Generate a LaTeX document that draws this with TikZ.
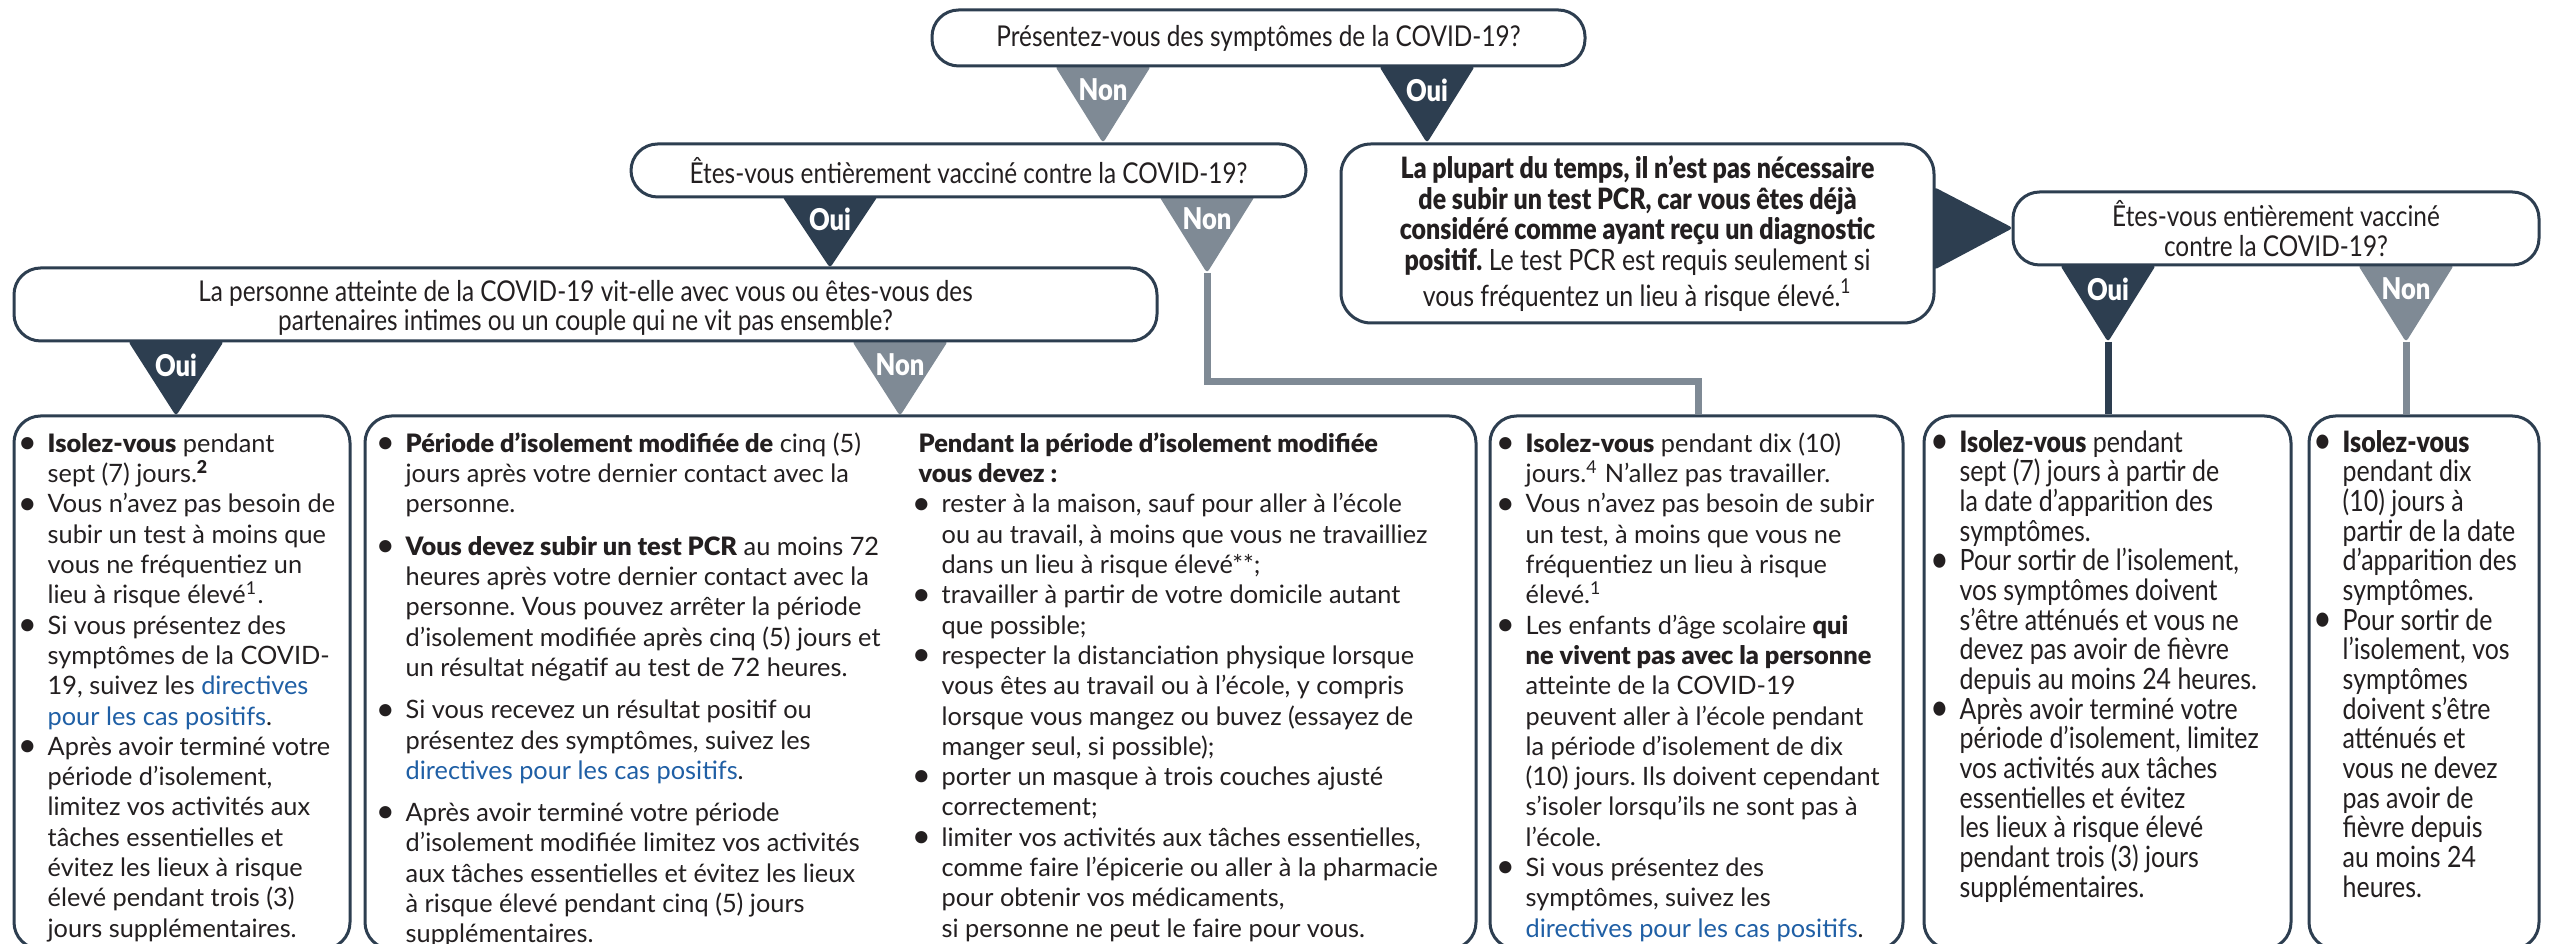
\documentclass[tikz,border=0pt]{standalone}
\usepackage{fontspec}
\usepackage{graphicx}
\setmainfont{Lato}[BoldFont={Lato Black}]
\newfontfamily\condfont{Lato}[FakeStretch=0.85, BoldFont={Lato Black}]
\usetikzlibrary{fit}
\definecolor{navy}{HTML}{2D3E50}
\definecolor{slate}{HTML}{7F8A95}
\definecolor{ink}{HTML}{231F20}
\definecolor{linkblue}{HTML}{1F5FA5}
\frenchspacing
\newcommand{\lnk}[1]{\textcolor{linkblue}{#1}}
\newcommand{\bl}{\llap{\raisebox{-0.1ex}{\scalebox{1.3}{\textbullet}}\hspace{3.2pt}}}
\newcommand{\fstrut}{\rule{0pt}{8pt}}
\tikzset{
  box/.style={draw=navy, fill=white, line width=0.9pt, rounded corners=8pt, inner sep=0pt},
  qbox/.style={box, rounded corners=8pt},
  body/.style={anchor=north west, align=left, inner sep=0pt, text=ink, font=\fontsize{7.6}{9.09}\selectfont},
  cbody/.style={anchor=north west, align=left, inner sep=0pt, text=ink, font=\condfont\fontsize{8.8}{8.9}\selectfont},
  qtext/.style={align=center, inner sep=0pt, text=ink, font=\condfont\fontsize{8.6}{8.8}\selectfont},
  btext/.style={align=center, inner sep=0pt, text=ink, font=\condfont\fontsize{8.8}{9.2}\selectfont},
  tlab/.style={text=white, inner sep=0pt, font=\condfont\bfseries\fontsize{9}{10}\selectfont},
  tri/.style={rounded corners=1pt},
  gline/.style={draw=slate, line width=2.1pt},
  nline/.style={draw=navy, line width=2.1pt}
}
\begin{document}
\begin{tikzpicture}[x=0.3pt, y=-0.3pt]
\useasboundingbox (0,0) rectangle (2554,944);
\fill[white] (0,0) rectangle (2554,944);

% connector tips
\coordinate (t1) at (1103,143);
\coordinate (t2) at (1427,143);
\coordinate (t3) at (830,268);
\coordinate (t4) at (1207,273);
\coordinate (t5) at (176,416);
\coordinate (t6) at (900,416);
\coordinate (t7) at (2108,342);
\coordinate (t8) at (2406,342);
\coordinate (j4) at (1698,382);

% triangles (Non / Oui)
\fill[slate,tri] (1055,66) -- (1151,66) -- (t1) -- cycle;
\fill[navy,tri] (1379,66) -- (1475,66) -- (t2) -- cycle;
\fill[navy,tri] (782,196) -- (878,196) -- (t3) -- cycle;
\fill[slate,tri] (1159,196) -- (1255,196) -- (t4) -- cycle;
\fill[navy,tri] (128,341) -- (224,341) -- (t5) -- cycle;
\fill[slate,tri] (852,341) -- (948,341) -- (t6) -- cycle;
\fill[navy,tri] (2060,265) -- (2156,265) -- (t7) -- cycle;
\fill[slate,tri] (2358,265) -- (2454,265) -- (t8) -- cycle;
\fill[navy,tri] (1934,187) -- (1934,270) -- (2013,228) -- cycle;

\node[tlab] at (1103,90) {Non};
\node[tlab] at (1427,90) {Oui};
\node[tlab] at (830,219) {Oui};
\node[tlab] at (1207,219) {Non};
\node[tlab] at (176,365) {Oui};
\node[tlab] at (900,365) {Non};
\node[tlab] at (2108,289) {Oui};
\node[tlab] at (2406,289) {Non};

% boxes
\node[qbox, fit={(932,10) (1585,66)}] (q1) {};
\node[qbox, fit={(631,144) (1306,197)}] (q2) {};
\node[box, rounded corners=9pt, fit={(1341,144) (1934,323)}] (bb) {};
\node[qbox, fit={(2013,192) (2539,265)}] (q3) {};
\node[qbox, fit={(14,268) (1157,341)}] (q4) {};
\node[box, fit={(14,416) (350,949)}] (b1) {};
\node[box, fit={(365,416) (1476,949)}] (b2) {};
\node[box, fit={(1490,416) (1903,949)}] (b3) {};
\node[box, fit={(1924,416) (2291,949)}] (b4) {};
\node[box, fit={(2309,416) (2539,949)}] (b5) {};

% connector lines
\draw[gline] (t4) |- (j4) -- (j4 |- b3.north);
\draw[nline] (t7) -- (t7 |- b4.north);
\draw[gline] (t8) -- (t8 |- b5.north);

% question texts
\node[qtext] at (q1.center) {Présentez-vous des symptômes de la COVID-19?};
\node[qtext] at (q2.center) {Êtes-vous entièrement vacciné contre la COVID-19?};
\node[qtext] at (q3.center) {Êtes-vous entièrement vacciné\\contre la COVID-19?};
\node[qtext] at ([yshift=-1pt]q4.center) {La personne atteinte de la COVID-19 vit-elle avec vous ou êtes-vous des\\partenaires intimes ou un couple qui ne vit pas ensemble?};
\node[btext] at (bb.center) {\textbf{La plupart du temps, il n’est pas nécessaire}\\
\textbf{de subir un test PCR, car vous êtes déjà}\\
\textbf{considéré comme ayant reçu un diagnostic}\\
\textbf{positif.} Le test PCR est requis seulement si\\
vous fréquentez un lieu à risque élevé.\textsuperscript{1}};

% box 1
\node[body] at (47,425) {\fstrut\bl\textbf{Isolez-vous} pendant\\
sept (7) jours.\textsuperscript{\textbf{2}}\\
\bl Vous n’avez pas besoin de\\
subir un test à moins que\\
vous ne fréquentiez un\\
lieu à risque élevé\textsuperscript{1}.\\
\bl Si vous présentez des\\
symptômes de la COVID-\\
19, suivez les \lnk{directives}\\
\lnk{pour les cas positifs}.\\
\bl Après avoir terminé votre\\
période d’isolement,\\
limitez vos activités aux\\
tâches essentielles et\\
évitez les lieux à risque\\
élevé pendant trois (3)\\
jours supplémentaires.};

% box 2 left
\node[body] at (405,425) {\fstrut\bl\textbf{Période d’isolement modifiée de} cinq (5)\\
jours après votre dernier contact avec la\\
personne.\\[3.6pt]
\bl\textbf{Vous devez subir un test PCR} au moins 72\\
heures après votre dernier contact avec la\\
personne. Vous pouvez arrêter la période\\
d’isolement modifiée après cinq (5) jours et\\
un résultat négatif au test de 72 heures.\\[3.6pt]
\bl Si vous recevez un résultat positif ou\\
présentez des symptômes, suivez les\\
\lnk{directives pour les cas positifs}.\\[3.6pt]
\bl Après avoir terminé votre période\\
d’isolement modifiée limitez vos activités\\
aux tâches essentielles et évitez les lieux\\
à risque élevé pendant cinq (5) jours\\
supplémentaires.};

% box 2 right
\node[body] at (918,425) {\fstrut\textbf{Pendant la période d’isolement modifiée}\\
\textbf{vous devez :}};
\node[body] at (941,485.6) {\fstrut\bl rester à la maison, sauf pour aller à l’école\\
ou au travail, à moins que vous ne travailliez\\
dans un lieu à risque élevé**;\\
\bl travailler à partir de votre domicile autant\\
que possible;\\
\bl respecter la distanciation physique lorsque\\
vous êtes au travail ou à l’école, y compris\\
lorsque vous mangez ou buvez (essayez de\\
manger seul, si possible);\\
\bl porter un masque à trois couches ajusté\\
correctement;\\
\bl limiter vos activités aux tâches essentielles,\\
comme faire l’épicerie ou aller à la pharmacie\\
pour obtenir vos médicaments,\\
si personne ne peut le faire pour vous.};

% box 3
\node[body] at (1525,425) {\fstrut\bl\textbf{Isolez-vous} pendant dix (10)\\
jours.\textsuperscript{4} N’allez pas travailler.\\
\bl Vous n’avez pas besoin de subir\\
un test, à moins que vous ne\\
fréquentiez un lieu à risque\\
élevé.\textsuperscript{1}\\
\bl Les enfants d’âge scolaire \textbf{qui}\\
\textbf{ne vivent pas avec la personne}\\
atteinte de la COVID-19\\
peuvent aller à l’école pendant\\
la période d’isolement de dix\\
(10) jours. Ils doivent cependant\\
s’isoler lorsqu’ils ne sont pas à\\
l’école.\\
\bl Si vous présentez des\\
symptômes, suivez les\\
\lnk{directives pour les cas positifs}.};

% box 4
\node[cbody] at (1959,425) {\fstrut\bl\textbf{Isolez-vous} pendant\\
sept (7) jours à partir de\\
la date d’apparition des\\
symptômes.\\
\bl Pour sortir de l’isolement,\\
vos symptômes doivent\\
s’être atténués et vous ne\\
devez pas avoir de fièvre\\
depuis au moins 24 heures.\\
\bl Après avoir terminé votre\\
période d’isolement, limitez\\
vos activités aux tâches\\
essentielles et évitez\\
les lieux à risque élevé\\
pendant trois (3) jours\\
supplémentaires.};

% box 5
\node[cbody] at (2342,425) {\fstrut\bl\textbf{Isolez-vous}\\
pendant dix\\
(10) jours à\\
partir de la date\\
d’apparition des\\
symptômes.\\
\bl Pour sortir de\\
l’isolement, vos\\
symptômes\\
doivent s’être\\
atténués et\\
vous ne devez\\
pas avoir de\\
fièvre depuis\\
au moins 24\\
heures.};
\end{tikzpicture}
\end{document}
